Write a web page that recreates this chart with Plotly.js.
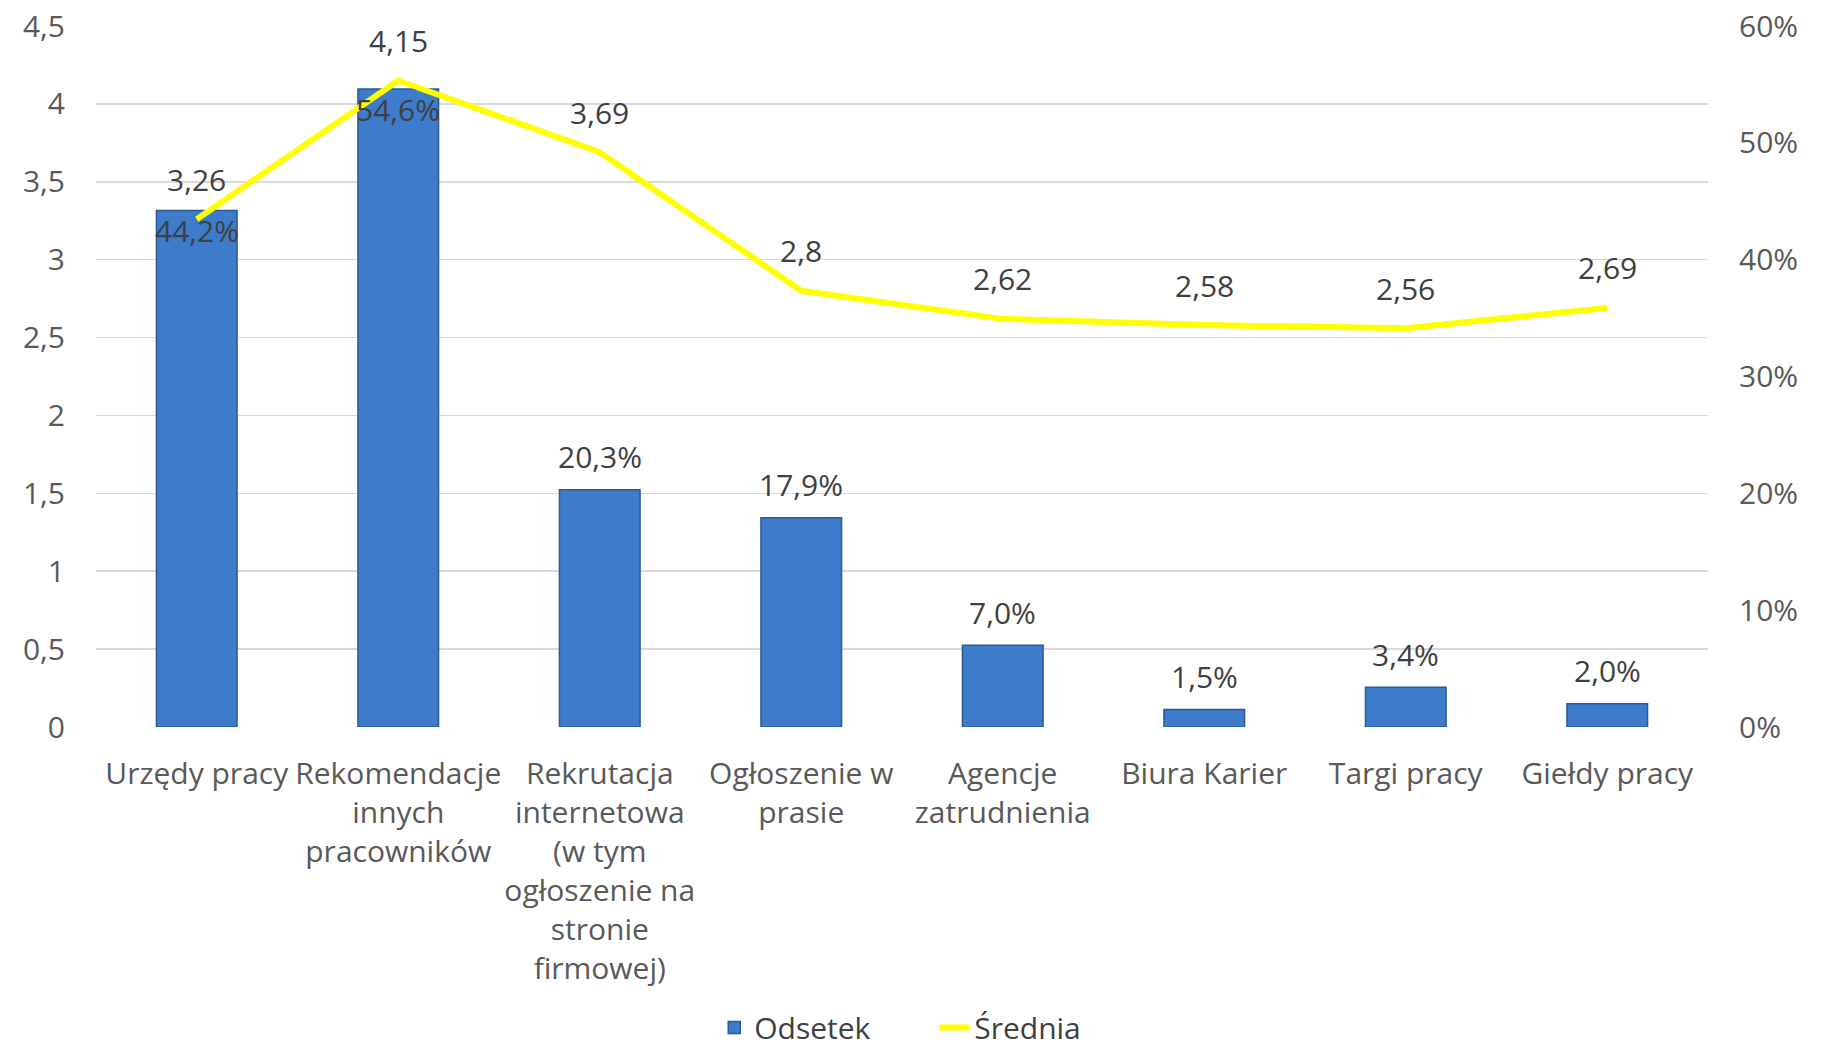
<!DOCTYPE html>
<html>
<head>
<meta charset="utf-8">
<script src="https://cdn.plot.ly/plotly-3.0.1.min.js"></script>
<style>html,body{margin:0;padding:0;background:#fff;}#chart{width:1824px;height:1055px;}</style>
</head>
<body>
<div id="chart"></div>
<script>
const categories = [
  "Urzędy pracy",
  "Rekomendacje<br>innych<br>pracowników",
  "Rekrutacja<br>internetowa<br>(w tym<br>ogłoszenie na<br>stronie<br>firmowej)",
  "Ogłoszenie w<br>prasie",
  "Agencje<br>zatrudnienia",
  "Biura Karier",
  "Targi pracy",
  "Giełdy pracy"
];
const odsetek = [44.2, 54.6, 20.3, 17.9, 7.0, 1.5, 3.4, 2.0];
const srednia = [3.26, 4.15, 3.69, 2.8, 2.62, 2.58, 2.56, 2.69];
const leftTicks = [0, 0.5, 1, 1.5, 2, 2.5, 3, 3.5, 4, 4.5];
const rightTicks = [0, 10, 20, 30, 40, 50, 60];

const FONT = '"Comic Sans MS", "Open Sans", sans-serif';
const fmtComma = v => String(v).replace('.', ',');

const annotations = [];
categories.forEach((c, i) => {
  annotations.push({
    x: c, y: odsetek[i], xref: 'x', yref: 'y',
    text: odsetek[i].toFixed(1).replace('.', ',') + '%',
    showarrow: false, yanchor: 'middle',
    yshift: (odsetek[i] > 40) ? -20 : 33,
    font: {family: FONT, size: 30, color: '#404040'}
  });
  annotations.push({
    x: c, y: srednia[i], xref: 'x', yref: 'y2',
    text: fmtComma(srednia[i]),
    showarrow: false, yanchor: 'middle', yshift: 40,
    font: {family: FONT, size: 30, color: '#404040'}
  });
});

const traces = [
  {
    type: 'bar', name: 'Odsetek', x: categories, y: odsetek, yaxis: 'y',
    marker: {color: '#3d7bcb', line: {color: '#2b5a96', width: 1.5}},
    hoverinfo: 'skip'
  },
  {
    type: 'scatter', mode: 'lines', name: 'Średnia', x: categories, y: srednia, yaxis: 'y2',
    line: {color: '#ffff00', width: 6},
    hoverinfo: 'skip'
  }
];

const layout = {
  width: 1824, height: 1055, autosize: false,
  margin: {l: 96, r: 116, t: 26, b: 328},
  paper_bgcolor: '#ffffff', plot_bgcolor: '#ffffff',
  separators: ', ',
  font: {family: FONT, size: 30, color: '#595959'},
  bargap: 0.6,
  showlegend: true,
  legend: {
    orientation: 'h', x: 0.52, xanchor: 'center',
    yref: 'container', y: 0.026, yanchor: 'middle',
    font: {family: FONT, size: 30, color: '#404040'},
    traceorder: 'normal', entrywidth: 175
  },
  xaxis: {
    type: 'category', showgrid: false, zeroline: false, showline: false,
    ticks: '', ticklabelstandoff: 26, tickangle: 0, automargin: false,
    tickfont: {family: FONT, size: 30, color: '#595959'}
  },
  yaxis: {
    side: 'right', range: [0, 60], tickvals: rightTicks,
    ticktext: rightTicks.map(v => v + '%'),
    showgrid: false, zeroline: false, showline: false, ticks: '', ticklabelstandoff: 30,
    automargin: false,
    tickfont: {family: FONT, size: 30, color: '#595959'}
  },
  yaxis2: {
    overlaying: 'y', side: 'left', range: [0, 4.5], tickvals: leftTicks,
    showgrid: true, gridcolor: '#d9d9d9', gridwidth: 1.5,
    zeroline: false, showline: false, ticks: '', ticklabelstandoff: 30,
    automargin: false,
    tickfont: {family: FONT, size: 30, color: '#595959'}
  },
  annotations: annotations
};

Plotly.newPlot('chart', traces, layout, {staticPlot: true, displayModeBar: false});
</script>
</body>
</html>
